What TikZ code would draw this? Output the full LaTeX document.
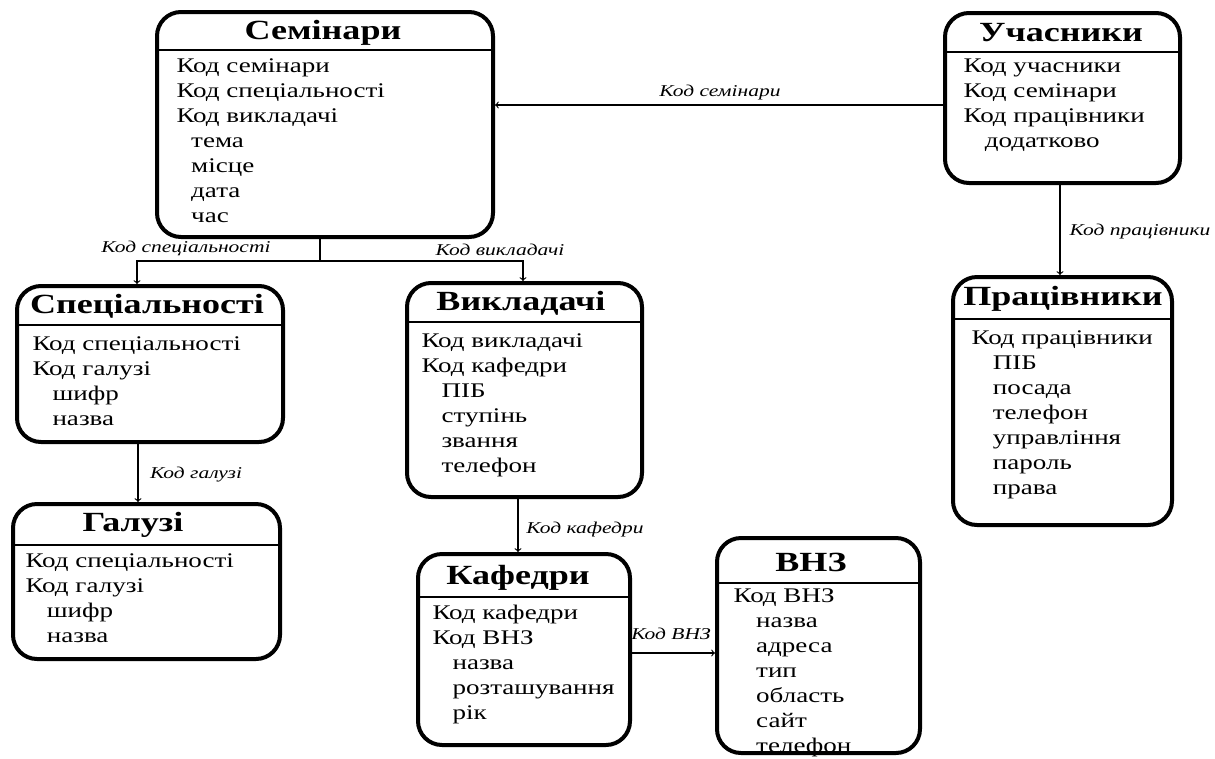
\documentclass[tikz,border=0pt]{standalone}
\usepackage{fontspec}
\setmainfont{Liberation Serif}[FakeStretch=1.3]
\usetikzlibrary{arrows,fit,positioning,calc}

\begin{document}
\begin{tikzpicture}[x=0.75pt, y=-0.75pt, thick,
        entity/.style={rectangle, draw, line width=3pt, rounded corners=18pt, inner sep=0pt},
        sepline/.style={draw, line width=0.9pt},
        title/.style={font=\fontsize{20.8}{24}\selectfont\bfseries, inner sep=0pt},
        attrs/.style={anchor=north west, align=left, inner sep=0pt, font=\fontsize{15.6}{18.75}\selectfont},
        link/.style={draw, line width=0.9pt},
        lbl/.style={font=\fontsize{12.4}{14}\selectfont\itshape, inner sep=0pt}]
    \useasboundingbox (0,0) rectangle (1215,758);

    % entities
    \node [entity, fit={(157,12) (493,237)}] (sem) {};
    \draw [sepline] (sem.west |- 0,50) -- (sem.east |- 0,50);
    \node [title] (semT) at (323,33) {Семінари};
    \node [attrs] (semA) at (176,58) {Код семінари\\Код спеціальності\\Код викладачі\\
        \hspace*{11pt}тема\\\hspace*{11pt}місце\\\hspace*{11pt}дата\\\hspace*{11pt}час};

    \node [entity, fit={(945,13) (1180,183)}] (uch) {};
    \draw [sepline] (uch.west |- 0,52) -- (uch.east |- 0,52);
    \node [title] (uchT) at (1061,33) {Учасники};
    \node [attrs] (uchA) at (963,58) {Код учасники\\Код семінари\\Код працівники\\
        \hspace*{16pt}додатково};

    \node [entity, fit={(17,286) (283,442)}] (spec) {};
    \draw [sepline] (spec.west |- 0,325) -- (spec.east |- 0,325);
    \node [title] (specT) at (147,306) {Спеціальності};
    \node [attrs] (specA) at (32,336) {Код спеціальності\\Код галузі\\
        \hspace*{15pt}шифр\\\hspace*{15pt}назва};

    \node [entity, fit={(407,283) (642,497)}] (vykl) {};
    \draw [sepline] (vykl.west |- 0,322) -- (vykl.east |- 0,322);
    \node [title] (vyklT) at (521,303) {Викладачі};
    \node [attrs] (vyklA) at (421,333) {Код викладачі\\Код кафедри\\
        \hspace*{15pt}ПІБ\\\hspace*{15pt}ступінь\\\hspace*{15pt}звання\\\hspace*{15pt}телефон};

    \node [entity, fit={(953,277) (1172,525)}] (prac) {};
    \draw [sepline] (prac.west |- 0,319) -- (prac.east |- 0,319);
    \node [title] (pracT) at (1063,299) {Працівники};
    \node [attrs] (pracA) at (971,330) {Код працівники\\
        \hspace*{16pt}ПІБ\\\hspace*{16pt}посада\\\hspace*{16pt}телефон\\
        \hspace*{16pt}управління\\\hspace*{16pt}пароль\\\hspace*{16pt}права};

    \node [entity, fit={(13,504) (280,659)}] (gal) {};
    \draw [sepline] (gal.west |- 0,545) -- (gal.east |- 0,545);
    \node [title] (galT) at (133,525) {Галузі};
    \node [attrs] (galA) at (25,553) {Код спеціальності\\Код галузі\\
        \hspace*{16pt}шифр\\\hspace*{16pt}назва};

    \node [entity, fit={(418,554) (630,745)}] (kaf) {};
    \draw [sepline] (kaf.west |- 0,597) -- (kaf.east |- 0,597);
    \node [title] (kafT) at (518,578) {Кафедри};
    \node [attrs] (kafA) at (432,605) {Код кафедри\\Код ВНЗ\\
        \hspace*{15pt}назва\\\hspace*{15pt}розташування\\\hspace*{15pt}рік};

    \node [entity, fit={(717,538) (920,753)}] (vnz) {};
    \draw [sepline] (vnz.west |- 0,583) -- (vnz.east |- 0,583);
    \node [title] (vnzT) at (811,562) {ВНЗ};
    \node [attrs] (vnzA) at (733,588) {Код ВНЗ\\
        \hspace*{17pt}назва\\\hspace*{17pt}адреса\\\hspace*{17pt}тип\\
        \hspace*{17pt}область\\\hspace*{17pt}сайт\\\hspace*{17pt}телефон};

    % links
    \coordinate (semJ) at (320,261);
    \coordinate (specX) at (137,0);
    \coordinate (vyklX) at (523,0);
    \draw [link] (sem.south -| semJ) -- (semJ);
    \draw [link, ->] (semJ) -| (spec.north -| specX);
    \draw [link, ->] (semJ) -| (vykl.north -| vyklX);
    \node [lbl] (lSpec) at (186,248) {Код спеціальності};
    \node [lbl] (lVykl) at (500,250) {Код викладачі};

    \coordinate (uchY) at (0,105);
    \draw [link, ->] (uch.west |- uchY) -- (sem.east |- uchY);
    \node [lbl] (lSem) at (720,93) {Код семінари};

    \coordinate (pracX) at (1060,0);
    \draw [link, ->] (uch.south -| pracX) -- (prac.north -| pracX);
    \node [lbl] (lPrac) at (1140,232) {Код працівники};

    \coordinate (galX) at (138,0);
    \draw [link, ->] (spec.south -| galX) -- (gal.north -| galX);
    \node [lbl] (lGal) at (196,475) {Код галузі};

    \coordinate (kafX) at (518,0);
    \draw [link, ->] (vykl.south -| kafX) -- (kaf.north -| kafX);
    \node [lbl] (lKaf) at (585,530) {Код кафедри};

    \coordinate (vnzY) at (0,653);
    \draw [link, ->] (kaf.east |- vnzY) -- (vnz.west |- vnzY);
    \node [lbl] (lVnz) at (671,634) {Код ВНЗ};
\end{tikzpicture}
\end{document}
